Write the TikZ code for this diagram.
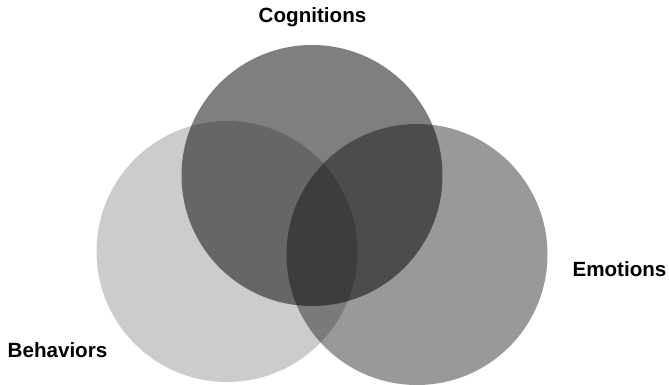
\documentclass[tikz,border=0pt]{standalone}
\usepackage{fontspec}
\setmainfont{Liberation Sans}
\usetikzlibrary{positioning}
\tikzstyle{setcircle}=[circle, draw=none, fill=black, minimum size=261pt,
  inner sep=0pt]
\tikzstyle{cognition} = [setcircle, fill opacity=0.5]
\tikzstyle{behavior} = [setcircle, fill opacity=0.2]
\tikzstyle{emotion} = [setcircle, fill opacity=0.4]
\tikzstyle{setlabel} = [anchor=base, inner sep=0pt,
  font=\fontsize{20.6}{24}\selectfont\bfseries]

\begin{document}
\begin{tikzpicture}[x=1pt,y=1pt]
\useasboundingbox (0,0) rectangle (669,384);

% Draw the sets
\path (227,132.5) node (beh) [behavior] {};
\path (417,129.5) node (emo) [emotion] {};
\path (312,208.5) node (cog) [cognition] {};

% Draw the labels
\path (312.5,361) node (lcog) [setlabel] {Cognitions};
\path (619.5,108) node (lemo) [setlabel] {Emotions};
\path (57.5,27) node (lbeh) [setlabel] {Behaviors};
\end{tikzpicture}
\end{document}
